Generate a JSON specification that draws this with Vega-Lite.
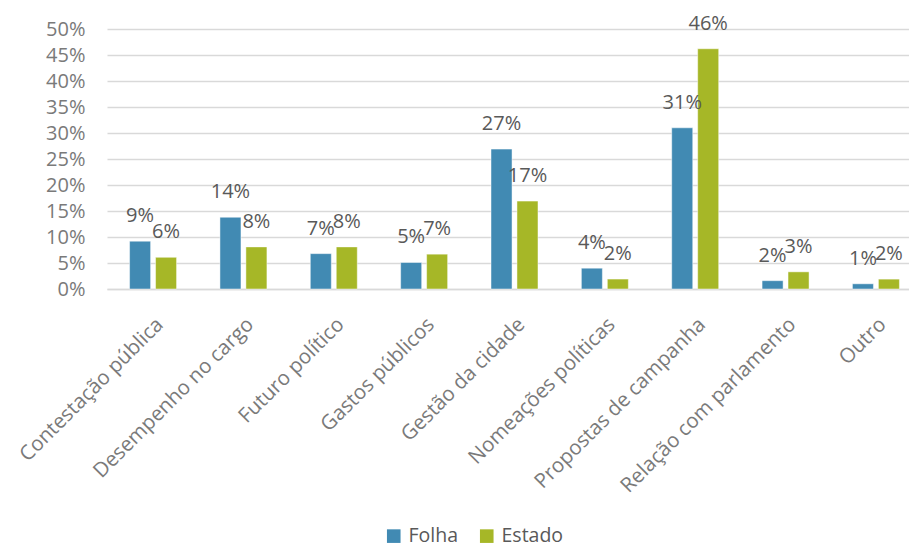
{
  "$schema": "https://vega.github.io/schema/vega-lite/v6.json",
  "autosize": "none",
  "padding": {"left": 107, "top": 29, "right": 0, "bottom": 258},
  "width": 802,
  "height": 260,
  "background": "white",
  "config": {
    "view": {"stroke": null},
    "font": "Open Sans"
  },
  "data": {
    "values": [
      {"tema": "Contestação pública", "jornal": "Folha", "valor": 0.092},
      {"tema": "Contestação pública", "jornal": "Estado", "valor": 0.061},
      {"tema": "Desempenho no cargo", "jornal": "Folha", "valor": 0.138},
      {"tema": "Desempenho no cargo", "jornal": "Estado", "valor": 0.081},
      {"tema": "Futuro político", "jornal": "Folha", "valor": 0.068},
      {"tema": "Futuro político", "jornal": "Estado", "valor": 0.081},
      {"tema": "Gastos públicos", "jornal": "Folha", "valor": 0.051},
      {"tema": "Gastos públicos", "jornal": "Estado", "valor": 0.067},
      {"tema": "Gestão da cidade", "jornal": "Folha", "valor": 0.269},
      {"tema": "Gestão da cidade", "jornal": "Estado", "valor": 0.169},
      {"tema": "Nomeações políticas", "jornal": "Folha", "valor": 0.040},
      {"tema": "Nomeações políticas", "jornal": "Estado", "valor": 0.019},
      {"tema": "Propostas de campanha", "jornal": "Folha", "valor": 0.310},
      {"tema": "Propostas de campanha", "jornal": "Estado", "valor": 0.462},
      {"tema": "Relação com parlamento", "jornal": "Folha", "valor": 0.016},
      {"tema": "Relação com parlamento", "jornal": "Estado", "valor": 0.033},
      {"tema": "Outro", "jornal": "Folha", "valor": 0.010},
      {"tema": "Outro", "jornal": "Estado", "valor": 0.019}
    ]
  },
  "encoding": {
    "x": {
      "field": "tema",
      "type": "nominal",
      "sort": null,
      "title": null,
      "scale": {"paddingInner": 0.48, "paddingOuter": 0.25, "range": [0, 815]},
      "axis": {
        "labelAngle": -45,
        "labelFontSize": 20.5,
        "labelColor": "#7a7a7a",
        "labelPadding": 25,
        "ticks": false,
        "domainColor": "#d9d9d9",
        "domainWidth": 1.5,
        "labelLimit": 400
      }
    },
    "xOffset": {
      "field": "jornal",
      "type": "nominal",
      "sort": ["Folha", "Estado"],
      "scale": {"paddingInner": 0.19, "paddingOuter": 0}
    },
    "y": {
      "field": "valor",
      "type": "quantitative",
      "title": null,
      "scale": {"domain": [0, 0.5], "nice": false},
      "axis": {
        "values": [0, 0.05, 0.1, 0.15, 0.2, 0.25, 0.3, 0.35, 0.4, 0.45, 0.5],
        "format": ".0%",
        "labelFontSize": 20,
        "labelColor": "#7a7a7a",
        "labelPadding": 22,
        "ticks": false,
        "domain": false,
        "gridColor": "#d9d9d9",
        "gridWidth": 1.5
      }
    }
  },
  "layer": [
    {
      "mark": {"type": "bar", "stroke": "white", "strokeWidth": 0.8, "strokeOpacity": 0.6},
      "encoding": {
        "color": {
          "field": "jornal",
          "type": "nominal",
          "sort": ["Folha", "Estado"],
          "scale": {"domain": ["Folha", "Estado"], "range": ["#418AB3", "#A6B727"]},
          "legend": {
            "title": null,
            "orient": "none",
            "direction": "horizontal",
            "legendX": 277,
            "legendY": 497,
            "symbolType": "square",
            "symbolSize": 185,
            "symbolStrokeWidth": 0,
            "labelFontSize": 19.5,
            "labelColor": "#595959",
            "labelOffset": 5,
            "columnPadding": 18
          }
        }
      }
    },
    {
      "mark": {"type": "text", "baseline": "alphabetic", "dy": -19, "fontSize": 20, "color": "#595959"},
      "encoding": {
        "text": {"field": "valor", "type": "quantitative", "format": ".0%"}
      }
    }
  ]
}
